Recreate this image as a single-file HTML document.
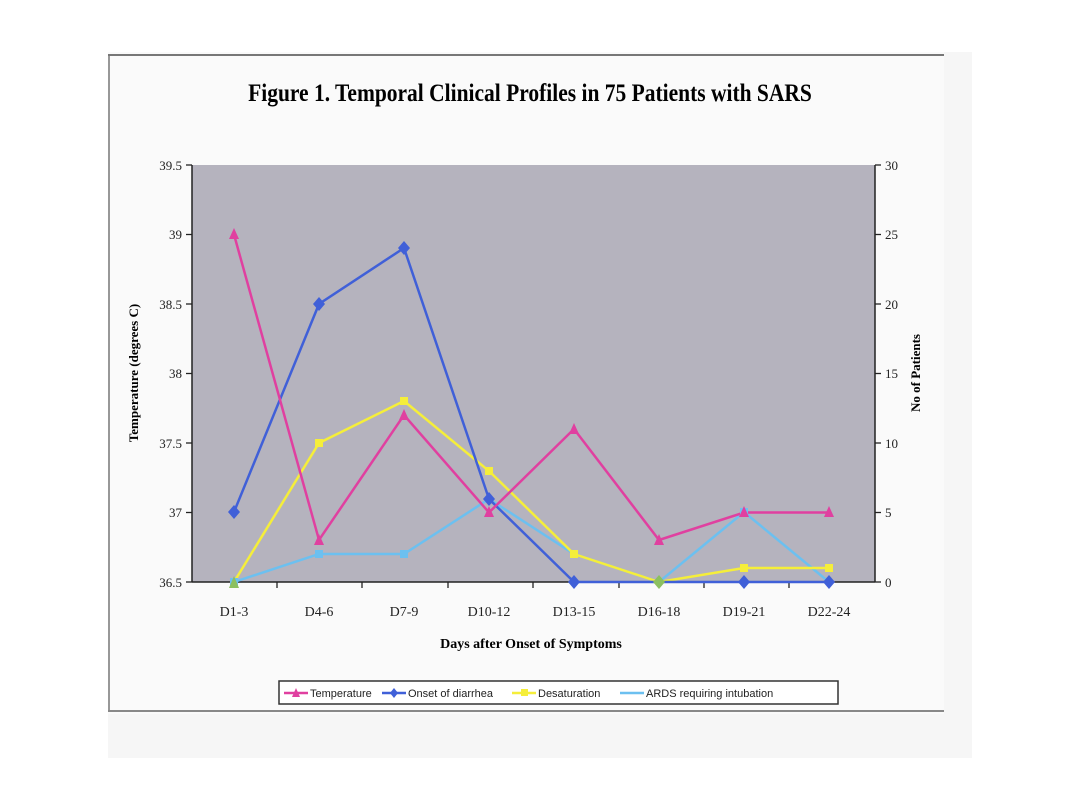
<!DOCTYPE html>
<html><head><style>
body{margin:0;background:#fff;}
svg{display:block;}
</style></head><body>
<svg width="1080" height="810" xmlns="http://www.w3.org/2000/svg" font-family="Liberation Serif, serif">
<rect x="108" y="52" width="864" height="706" fill="#f6f6f6"/>
<rect x="108" y="52" width="836" height="662" fill="#fafafa"/>
<line x1="108" y1="55" x2="944" y2="55" stroke="#777" stroke-width="2"/>
<line x1="109" y1="55" x2="109" y2="712" stroke="#777" stroke-width="1.5"/>
<line x1="108" y1="711" x2="944" y2="711" stroke="#888" stroke-width="2"/>
<text x="530" y="101" text-anchor="middle" font-size="25" font-weight="bold" transform="translate(530,0) scale(0.86,1) translate(-530,0)">Figure 1. Temporal Clinical Profiles in 75 Patients with SARS</text>
<rect x="192" y="165" width="683" height="417" fill="#b5b3be"/>
<g stroke="#222" stroke-width="1.5">
<line x1="192" y1="165" x2="192" y2="582"/>
<line x1="875" y1="165" x2="875" y2="582"/>
<line x1="192" y1="582" x2="875" y2="582"/>
</g>
<g stroke="#222" stroke-width="1.3">
<line x1="186" y1="165" x2="192" y2="165"/><line x1="186" y1="234.5" x2="192" y2="234.5"/><line x1="186" y1="304" x2="192" y2="304"/><line x1="186" y1="373.5" x2="192" y2="373.5"/><line x1="186" y1="443" x2="192" y2="443"/><line x1="186" y1="512.5" x2="192" y2="512.5"/><line x1="186" y1="582" x2="192" y2="582"/>
<line x1="875" y1="165" x2="881" y2="165"/><line x1="875" y1="234.5" x2="881" y2="234.5"/><line x1="875" y1="304" x2="881" y2="304"/><line x1="875" y1="373.5" x2="881" y2="373.5"/><line x1="875" y1="443" x2="881" y2="443"/><line x1="875" y1="512.5" x2="881" y2="512.5"/><line x1="875" y1="582" x2="881" y2="582"/>
<line x1="277" y1="582" x2="277" y2="588"/><line x1="362" y1="582" x2="362" y2="588"/><line x1="448" y1="582" x2="448" y2="588"/><line x1="533" y1="582" x2="533" y2="588"/><line x1="619" y1="582" x2="619" y2="588"/><line x1="704" y1="582" x2="704" y2="588"/><line x1="789" y1="582" x2="789" y2="588"/>
</g>
<g font-size="13" text-anchor="end" fill="#222">
<text x="182" y="170">39.5</text><text x="182" y="239">39</text><text x="182" y="309">38.5</text><text x="182" y="378">38</text><text x="182" y="448">37.5</text><text x="182" y="517">37</text><text x="182" y="587">36.5</text>
</g>
<g font-size="13" text-anchor="start" fill="#222">
<text x="885" y="170">30</text><text x="885" y="239">25</text><text x="885" y="309">20</text><text x="885" y="378">15</text><text x="885" y="448">10</text><text x="885" y="517">5</text><text x="885" y="587">0</text>
</g>
<g font-size="14" text-anchor="middle" fill="#222">
<text x="234" y="616">D1-3</text><text x="319" y="616">D4-6</text><text x="404" y="616">D7-9</text><text x="489" y="616">D10-12</text><text x="574" y="616">D13-15</text><text x="659" y="616">D16-18</text><text x="744" y="616">D19-21</text><text x="829" y="616">D22-24</text>
</g>
<text x="531" y="648" text-anchor="middle" font-size="14" font-weight="bold">Days after Onset of Symptoms</text>
<text transform="translate(138,373) rotate(-90)" text-anchor="middle" font-size="13" font-weight="bold">Temperature (degrees C)</text>
<text transform="translate(920,373) rotate(-90)" text-anchor="middle" font-size="13" font-weight="bold">No of Patients</text>
<polyline fill="none" stroke="#6cc0f0" stroke-width="2.5" points="234,582 319,554 404,554 489,499 574,554 659,582 744,512 829,582"/>
<polyline fill="none" stroke="#f5ee3a" stroke-width="2.5" points="234,582 319,443 404,401 489,471 574,554 659,582 744,568 829,568"/>
<polyline fill="none" stroke="#4060d8" stroke-width="2.5" points="234,512 319,304 404,248 489,499 574,582 659,582 744,582 829,582"/>
<polyline fill="none" stroke="#e040a0" stroke-width="2.5" points="234,234.5 319,540 404,415 489,512.5 574,429 659,540 744,512.5 829,512.5"/>
<g fill="#6cc0f0"><rect x="230" y="578" width="8" height="8"/><rect x="315" y="550" width="8" height="8"/><rect x="400" y="550" width="8" height="8"/><rect x="570" y="550" width="8" height="8"/><rect x="740" y="508" width="8" height="8"/></g>
<g fill="#f5ee3a"><rect x="315" y="439" width="8" height="8"/><rect x="400" y="397" width="8" height="8"/><rect x="485" y="467" width="8" height="8"/><rect x="570" y="550" width="8" height="8"/><rect x="740" y="564" width="8" height="8"/><rect x="825" y="564" width="8" height="8"/></g>
<g fill="#4060d8">
<polygon points="234,505 240,512 234,519 228,512"/><polygon points="319,297 325,304 319,311 313,304"/><polygon points="404,241 410,248 404,255 398,248"/><polygon points="489,492 495,499 489,506 483,499"/><polygon points="574,575 580,582 574,589 568,582"/><polygon points="744,575 750,582 744,589 738,582"/><polygon points="829,575 835,582 829,589 823,582"/>
</g>
<polygon points="659,575 665,582 659,589 653,582" fill="#8cc060"/>
<polygon points="234,576 239,588 229,588" fill="#8cc060"/>
<g fill="#e040a0">
<polygon points="234,228 239,239 229,239"/><polygon points="319,534 324,545 314,545"/><polygon points="404,409 409,420 399,420"/><polygon points="489,506 494,517 484,517"/><polygon points="574,423 579,434 569,434"/><polygon points="659,534 664,545 654,545"/><polygon points="744,506 749,517 739,517"/><polygon points="829,506 834,517 824,517"/>
</g>
<rect x="279" y="681" width="559" height="23" fill="#fff" stroke="#333" stroke-width="1.5"/>
<g font-family="Liberation Sans, sans-serif" font-size="11" fill="#222">
<line x1="284" y1="693" x2="308" y2="693" stroke="#e040a0" stroke-width="2.5"/><polygon points="296,688 300,697 292,697" fill="#e040a0"/>
<text x="310" y="697">Temperature</text>
<line x1="382" y1="693" x2="406" y2="693" stroke="#4060d8" stroke-width="2.5"/><polygon points="394,688 398,693 394,698 390,693" fill="#4060d8"/>
<text x="408" y="697">Onset of diarrhea</text>
<line x1="512" y1="693" x2="536" y2="693" stroke="#f5ee3a" stroke-width="2.5"/><rect x="521" y="689" width="7" height="7" fill="#f5ee3a"/>
<text x="538" y="697">Desaturation</text>
<line x1="620" y1="693" x2="644" y2="693" stroke="#6cc0f0" stroke-width="2.5"/>
<text x="646" y="697">ARDS requiring intubation</text>
</g>
</svg>
</body></html>
